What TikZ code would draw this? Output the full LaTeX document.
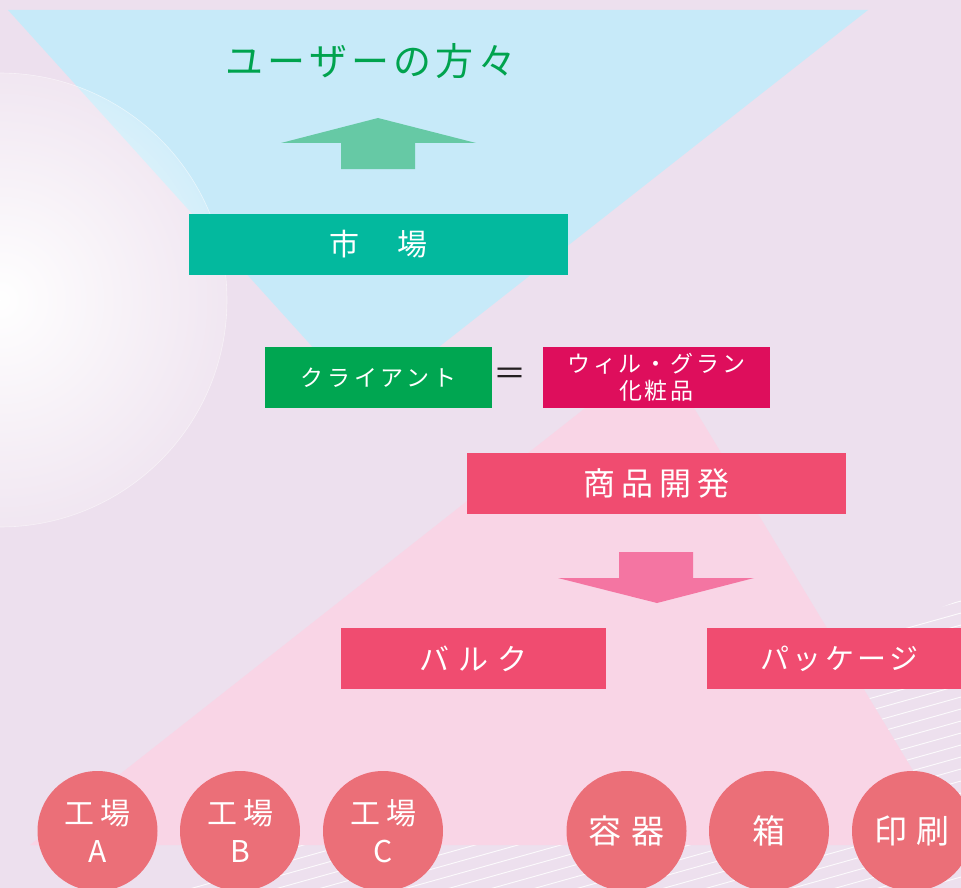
\documentclass[tikz,border=0pt]{standalone}
\usepackage{fontspec}
\setmainfont{Noto Sans CJK JP}
\usetikzlibrary{fadings}
\definecolor{bgcol}{HTML}{EDE0EE}
\definecolor{skycol}{HTML}{C7EAF9}
\definecolor{rosecol}{HTML}{F9D5E6}
\definecolor{marketcol}{HTML}{03B99E}
\definecolor{clientcol}{HTML}{00A651}
\definecolor{makercol}{HTML}{DE0E5C}
\definecolor{pinkcol}{HTML}{F04C70}
\definecolor{ballcol}{HTML}{EB6F78}
\definecolor{upcol}{HTML}{66C9A5}
\definecolor{downcol}{HTML}{F475A2}
\definecolor{titlecol}{HTML}{00A34E}
\definecolor{eqcol}{HTML}{231F20}
\newcommand\jsize[2]{\fontsize{#1}{#1}\selectfont\addfontfeature{LetterSpace=#2}}
\tikzfading[name=glow, inner color=transparent!0, outer color=transparent!78]
\begin{document}
\begin{tikzpicture}[x=1pt, y=-1pt,
  box/.style={inner sep=0pt, text=white, minimum height=61pt, align=center},
  ball/.style={circle, fill=ballcol, inner sep=0pt, minimum size=120pt,
    text=white, align=center, font=\jsize{33}{0}},
  plant/.style={ball, font=\fontsize{30}{38}\selectfont\addfontfeature{LetterSpace=20},
    execute at begin node={\rule{0pt}{38pt}}}]
  \useasboundingbox (0,0) rectangle (961,888);
  \clip (0,0) rectangle (961,888);
  % Background
  \fill[bgcol] (0,0) rectangle (961,888);
  % Stripes
  \begin{scope}
    \clip (961,600) -- (175,888) -- (961,888) -- cycle;
    \foreach \c in {612,624,...,1164}
      \draw[white, opacity=0.85, line width=0.9pt] (150,\c) -- (961,\c-227);
  \end{scope}
  % Triangles
  \fill[skycol] (8,10) -- (868,10) -- (365,405) -- cycle;
  \fill[rosecol] (659,350) -- (958,845) -- (30,845) -- cycle;
  % Glow
  \fill[white, path fading=glow] (0,300) circle (227);
  \draw[white, opacity=0.5, line width=0.6pt] (0,300) circle (227);
  % Arrows
  \fill[upcol] (378,118) -- (476,143) -- (415,143) -- (415,169)
    -- (341,169) -- (341,143) -- (281,143) -- cycle;
  \fill[downcol] (619,552) -- (693,552) -- (693,578) -- (754,578)
    -- (657,603) -- (558,578) -- (619,578) -- cycle;
  % Title
  \node[text=titlecol, font=\jsize{38}{11}] (users) at (371,61) {ユーザーの方々};
  % Boxes
  \node[box, fill=marketcol, minimum width=379pt, font=\jsize{30}{13}] (market) at (378.5,244.5) {市　場};
  \node[box, fill=clientcol, minimum width=227pt, font=\jsize{23}{16}] (client) at (378.5,377.5) {クライアント};
  \node[text=eqcol, font=\fontsize{33}{33}\selectfont] (eq) at (510,377) {＝};
  \node[box, fill=makercol, minimum width=227pt, font=\fontsize{23}{27}\selectfont\addfontfeature{LetterSpace=13}] (maker) at (656.5,377.5) {ウィル・グラン\\化粧品};
  \node[box, fill=pinkcol, minimum width=379pt, font=\jsize{32}{19}] (dev) at (656.5,483.5) {商品開発};
  \node[box, fill=pinkcol, minimum width=265pt, font=\jsize{30}{30}] (bulk) at (473.5,658.5) {バルク};
  \node[box, fill=pinkcol, minimum width=265pt, font=\jsize{29}{12}] (package) at (839.5,658.5) {パッケージ};
  % Factories and parts
  \node[plant] (fa) at (97.5,831) {工場\\A};
  \node[plant] (fb) at (240,831) {工場\\B};
  \node[plant] (fc) at (383,831) {工場\\C};
  \node[ball, font=\jsize{33}{33}] (vessel) at (626.5,831) {容器};
  \node[ball] (case) at (769,831) {箱};
  \node[ball, font=\jsize{33}{27}] (print) at (912,831) {印刷};
\end{tikzpicture}
\end{document}
